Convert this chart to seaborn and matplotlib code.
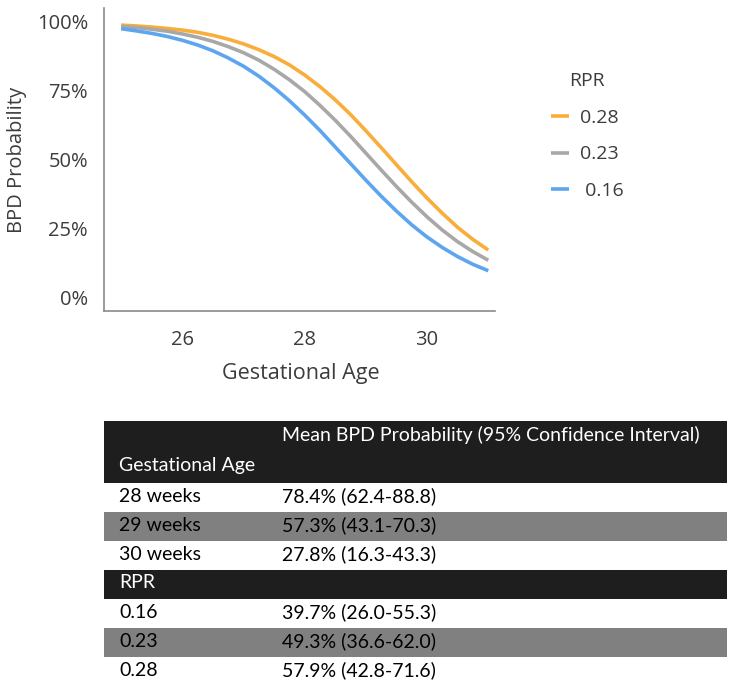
import numpy as np
import pandas as pd
import matplotlib
matplotlib.use("Agg")
import matplotlib.pyplot as plt
import seaborn as sns

# curve values (BPD probability, %)
gest_age = [25.0, 25.25, 25.5, 25.75, 26.0, 26.25, 26.5, 26.75, 27.0, 27.25, 27.5, 27.75, 28.0,
            28.25, 28.5, 28.75, 29.0, 29.25, 29.5, 29.75, 30.0, 30.25, 30.5, 30.75, 31.0]
bpd_rpr_028 = [98.6, 98.3, 97.9, 97.4, 96.8, 96.0, 94.9, 93.5, 91.8, 89.7, 87.2, 84.2, 80.5,
               76.3, 71.5, 66.2, 60.3, 54.2, 48.0, 41.8, 35.9, 30.4, 25.3, 20.9, 17.1]
bpd_rpr_023 = [98.1, 97.7, 97.1, 96.4, 95.4, 94.2, 92.7, 90.8, 88.6, 85.9, 82.6, 78.8, 74.5,
               69.5, 64.1, 58.3, 52.2, 46.1, 40.1, 34.4, 29.1, 24.3, 20.1, 16.5, 13.4]
bpd_rpr_016 = [97.3, 96.5, 95.6, 94.5, 93.1, 91.4, 89.3, 86.7, 83.7, 80.1, 75.9, 71.2, 66.0,
               60.4, 54.4, 48.4, 42.4, 36.6, 31.2, 26.2, 21.8, 18.0, 14.7, 11.9, 9.6]
rpr_levels = ["0.28", "0.23", "0.16"]
legend_labels = ["0.28", "0.23", " 0.16"]

# table contents
table_header = "Mean BPD Probability (95% Confidence Interval)"
ga_rows = ["28 weeks", "29 weeks", "30 weeks"]
ga_vals = ["78.4% (62.4-88.8)", "57.3% (43.1-70.3)", "27.8% (16.3-43.3)"]
rpr_rows = ["0.16", "0.23", "0.28"]
rpr_vals = ["39.7% (26.0-55.3)", "49.3% (36.6-62.0)", "57.9% (42.8-71.6)"]

n = len(gest_age)
df = pd.DataFrame({
    "Gestational Age": gest_age * 3,
    "BPD": bpd_rpr_028 + bpd_rpr_023 + bpd_rpr_016,
    "RPR": [rpr_levels[0]] * n + [rpr_levels[1]] * n + [rpr_levels[2]] * n,
})

sns.set_style("white")
plt.rcParams["font.family"] = ["Open Sans", "DejaVu Sans"]
txt = "#3c3c3c"
axc = "#8a8a8a"

fig = plt.figure(figsize=(7.47, 6.97), dpi=100)
ax = fig.add_axes([104 / 747, 1 - 311 / 697, 391 / 747, 303 / 697])

pal = {"0.28": "#F9AE3C", "0.23": "#A8A8A8", "0.16": "#5EA5F0"}
sns.lineplot(data=df, x="Gestational Age", y="BPD", hue="RPR", hue_order=rpr_levels,
             palette=pal, linewidth=2.6, solid_capstyle="butt", ax=ax)

ax.set_xlim(24.72, 31.11)
ax.set_ylim(-5, 104.8)
ax.set_xticks([26, 28, 30])
ax.set_yticks([0, 25, 50, 75, 100])
ax.set_yticklabels(["0%", "25%", "50%", "75%", "100%"])
for s in ["top", "right"]:
    ax.spines[s].set_visible(False)
for s in ["left", "bottom"]:
    ax.spines[s].set_color(axc)
    ax.spines[s].set_linewidth(1.2)
ax.tick_params(axis="both", colors=axc, labelcolor=txt, labelsize=14.5, length=6,
               width=1.2, direction="out", pad=5.5)
ax.tick_params(axis="x", pad=7.5)
ax.set_xlabel("Gestational Age", fontsize=15.5, color=txt)
ax.set_ylabel("BPD Probability", fontsize=14.5, color=txt)
ax.xaxis.set_label_coords(0.504, -0.205)
ax.xaxis.label.set_va("center")
ax.yaxis.set_label_coords(-0.2225, 0.5)
ax.yaxis.label.set_va("center")

handles, _ = ax.get_legend_handles_labels()
leg = ax.legend(handles, legend_labels, title="RPR", frameon=False, fontsize=14,
                title_fontsize=14, loc="upper left", bbox_to_anchor=(533 / 747, 1 - 55 / 697),
                bbox_transform=fig.transFigure,
                handlelength=0.93, handletextpad=0.57, labelspacing=0.95)
for t in leg.get_texts():
    t.set_color(txt)
leg.get_title().set_color(txt)

# table
tax = fig.add_axes([104 / 747, 0, 623 / 747, 1])
tax.set_xlim(104, 727)
tax.set_ylim(697, 0)
tax.axis("off")
tfont = dict(family=["Lato", "DejaVu Sans"], fontsize=14, va="center")
black = "#1e1e1e"
gray = "#808080"

tax.axhspan(421, 483, color=black, lw=0)
tax.text(282, 435, table_header, color="white", **tfont)
tax.text(119, 465, "Gestational Age", color="white", **tfont)
y = 483
for i, (lab, val) in enumerate(zip(ga_rows, ga_vals)):
    if i == 1:
        tax.axhspan(y, y + 29, color=gray, lw=0)
    tax.text(119, y + 13.5, lab, color="black", **tfont)
    tax.text(282, y + 13.5, val, color="black", **tfont)
    y += 29
tax.axhspan(y, y + 29, color=black, lw=0)
tax.text(119, y + 13, "RPR", color="white", **tfont)
y += 29
for i, (lab, val) in enumerate(zip(rpr_rows, rpr_vals)):
    if i == 1:
        tax.axhspan(y, y + 29, color=gray, lw=0)
    tax.text(119, y + 13.5, lab, color="black", **tfont)
    tax.text(282, y + 13.5, val, color="black", **tfont)
    y += 29

fig.savefig("out.png", dpi=100)
